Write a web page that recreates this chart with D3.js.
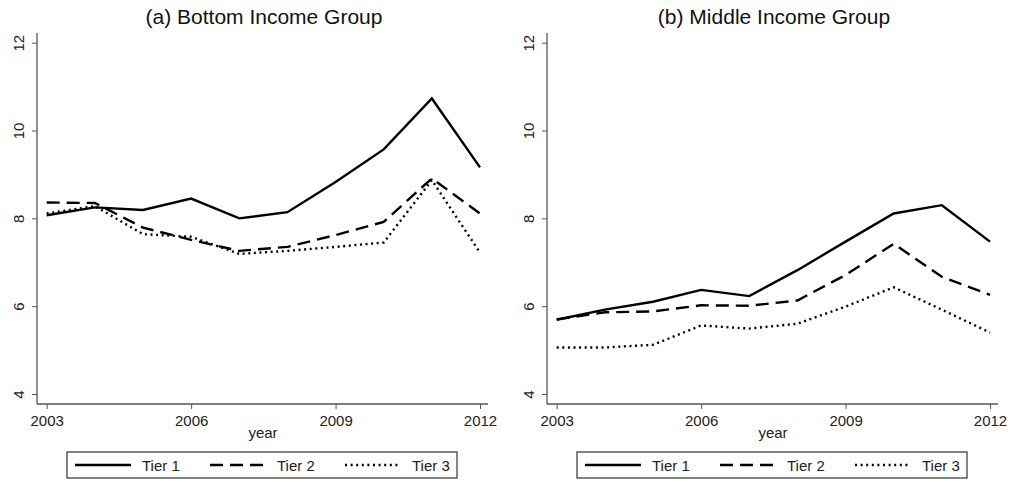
<!DOCTYPE html>
<html><head><meta charset="utf-8">
<script src="https://cdn.jsdelivr.net/npm/d3@7"></script>
<style>body{margin:0;background:#fff;}svg{display:block;font-family:"Liberation Sans",Arial,sans-serif;}</style>
</head><body>
<svg id="c" width="1010" height="503"></svg>
<script>
const years = [2003,2004,2005,2006,2007,2008,2009,2010,2011,2012];
const yTicks = [4,6,8,10,12];
const xTicks = [2003,2006,2009,2012];
const seriesNames = ["Tier 1","Tier 2","Tier 3"];
const titles = ["(a) Bottom Income Group","(b) Middle Income Group"];
const bottomTier1 = [8.07,8.25,8.19,8.45,8.00,8.14,8.83,9.57,10.73,9.16];
const bottomTier2 = [8.36,8.35,7.79,7.51,7.26,7.35,7.62,7.92,8.91,8.11];
const bottomTier3 = [8.11,8.28,7.64,7.58,7.19,7.26,7.35,7.45,8.87,7.22];
const middleTier1 = [5.69,5.92,6.10,6.37,6.23,6.82,7.47,8.11,8.30,7.47];
const middleTier2 = [5.70,5.86,5.88,6.02,6.01,6.13,6.71,7.42,6.67,6.26];
const middleTier3 = [5.06,5.06,5.12,5.56,5.49,5.60,5.99,6.43,5.92,5.40];

const panels = [
  {title: titles[0], data: [bottomTier1,bottomTier2,bottomTier3], ox: 0},
  {title: titles[1], data: [middleTier1,middleTier2,middleTier3], ox: 510}
];
const dashes = [null, "13,7", "2,3.6"];
const svg = d3.select("#c");
const axisColor = "#555";
const ff = "Liberation Sans, Arial, sans-serif";

panels.forEach(p => {
  const g = svg.append("g").attr("transform", `translate(${p.ox},0)`);
  const axL = 37, axR = 488, axT = 33, axB = 404;
  const x = d3.scaleLinear().domain([2003,2012]).range([46.7,480]);
  const y = d3.scaleLinear().domain([4,12]).range([394,42.7]);

  // title
  g.append("text").attr("x", 264).attr("y", 24).attr("text-anchor","middle")
    .attr("font-size", 21).attr("fill","#111").text(p.title);

  // y axis
  const ya = g.append("g").attr("transform", `translate(${axL},0)`)
    .call(d3.axisLeft(y).tickValues(yTicks).tickSize(5).tickPadding(0).tickFormat(d3.format("d")));
  ya.select(".domain").remove();
  ya.selectAll(".tick line").attr("stroke", axisColor);
  ya.selectAll(".tick text").attr("transform","rotate(-90)").attr("x",0).attr("y",-18)
    .attr("dy","0.35em").attr("text-anchor","middle").attr("font-size",15)
    .attr("font-family",ff).attr("fill","#222");
  g.append("line").attr("x1",axL).attr("x2",axL).attr("y1",axT).attr("y2",axB)
    .attr("stroke",axisColor).attr("stroke-width",1.3);

  // x axis
  const xa = g.append("g").attr("transform", `translate(0,${axB})`)
    .call(d3.axisBottom(x).tickValues(xTicks).tickSize(5).tickPadding(6).tickFormat(d3.format("d")));
  xa.select(".domain").remove();
  xa.selectAll(".tick line").attr("stroke", axisColor);
  xa.selectAll(".tick text").attr("font-size",15).attr("fill","#222")
    .attr("font-family",ff);
  g.append("line").attr("x1",axL).attr("x2",axR).attr("y1",axB).attr("y2",axB)
    .attr("stroke",axisColor).attr("stroke-width",1.3);

  g.append("text").attr("x",263).attr("y",438).attr("text-anchor","middle")
    .attr("font-size",15).attr("fill","#222").text("year");

  // lines
  const line = d3.line().x((d,i)=>x(years[i])).y(d=>y(d));
  p.data.forEach((s,k) => {
    g.append("path").datum(s).attr("d", line).attr("fill","none")
      .attr("stroke","#000").attr("stroke-width", 2.4)
      .attr("stroke-dasharray", dashes[k]);
  });

  // legend
  const lx = 67, ly = 452, lw = 390, lh = 26;
  g.append("rect").attr("x",lx).attr("y",ly).attr("width",lw).attr("height",lh)
    .attr("fill","#fff").attr("stroke","#333").attr("stroke-width",1.2);
  seriesNames.forEach((n,k) => {
    const sx = lx + 8 + k*135;
    g.append("line").attr("x1",sx).attr("x2",sx+56).attr("y1",ly+13).attr("y2",ly+13)
      .attr("stroke","#000").attr("stroke-width",2.4).attr("stroke-dasharray",dashes[k]);
    g.append("text").attr("x",sx+67).attr("y",ly+19).attr("font-size",15)
      .attr("fill","#222").text(n);
  });
});
</script>
</body></html>
